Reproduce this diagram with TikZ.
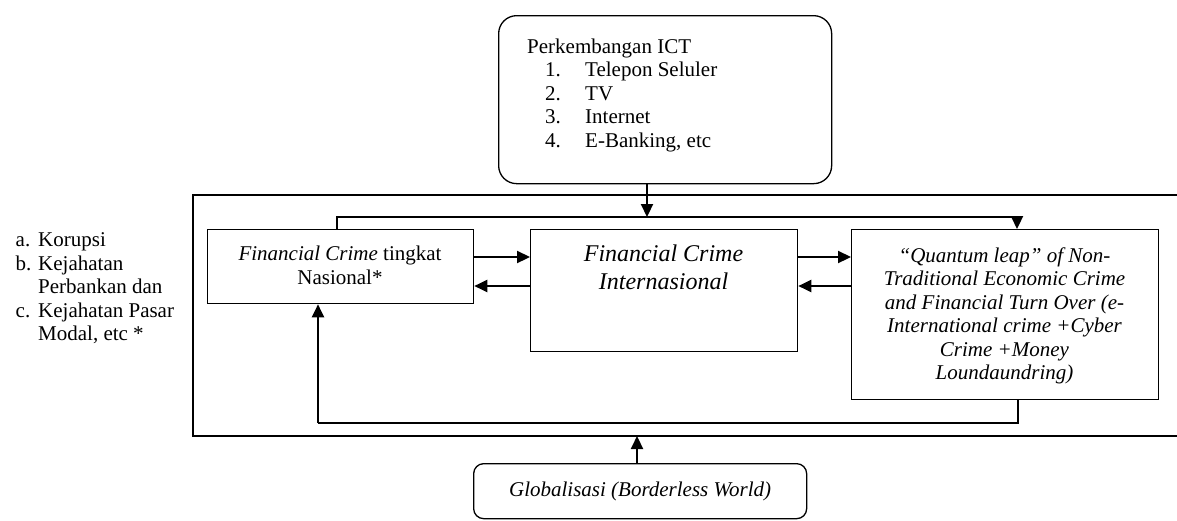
\documentclass[tikz,border=0pt]{standalone}
\usepackage{fontspec}
\setmainfont{Liberation Serif}
\usetikzlibrary{arrows.meta}
\begin{document}
\begin{tikzpicture}[x=1pt,y=-1pt,
  boxline/.style={draw=black,line width=1.3pt},
  plainbox/.style={boxline,rectangle,inner sep=0pt,anchor=north west},
  roundbox/.style={boxline,rectangle,inner sep=0pt,anchor=north west},
  txt/.style={inner sep=0pt,font=\fontsize{21}{23.5}\selectfont},
  bigtxt/.style={inner sep=0pt,font=\fontsize{24}{27.5}\selectfont},
  conn/.style={line width=2.2pt,-{Triangle[length=13pt,width=12pt]}},
  thinline/.style={line width=1.3pt},
]
\useasboundingbox (0,0) rectangle (1177,520);

% outer frame
\draw[thinline] (1180,195) -- (193,195) -- (193,436) -- (1180,436);

% top box
\node[roundbox,rounded corners=18pt,minimum width=333pt,minimum height=168pt] (ict) at (498,15) {};
\node[txt,anchor=north west,align=left] (icttext) at (527,38.5)
  {Perkembangan ICT\\
   \hspace*{18pt}\makebox[40pt][l]{1.}Telepon Seluler\\
   \hspace*{18pt}\makebox[40pt][l]{2.}TV\\
   \hspace*{18pt}\makebox[40pt][l]{3.}Internet\\
   \hspace*{18pt}\makebox[40pt][l]{4.}E-Banking, etc};

% left list
\node[txt,anchor=north west,align=left] (list) at (15.5,232.5)
  {\makebox[22.5pt][l]{a.}Korupsi\\
   \makebox[22.5pt][l]{b.}Kejahatan\\
   \hspace*{22.5pt}Perbankan dan\\
   \makebox[22.5pt][l]{c.}Kejahatan Pasar\\
   \hspace*{22.5pt}Modal, etc *};

% inner boxes
\node[plainbox,minimum width=266pt,minimum height=74pt] (nas) at (207,229) {};
\node[txt,align=center,anchor=north] (nastext) at (340,246)
  {\textit{Financial Crime} tingkat\\Nasional*};

\node[plainbox,minimum width=267pt,minimum height=122pt] (int) at (530,229) {};
\node[bigtxt,align=center,anchor=north] (inttext) at (663.5,245)
  {\textit{Financial Crime}\\\textit{Internasional}};

\node[plainbox,minimum width=307pt,minimum height=170pt] (qt) at (851,229) {};
\node[txt,align=center,anchor=north] (qttext) at (1004.5,247.5)
  {\itshape ``Quantum leap'' of Non-\\
   \itshape Traditional Economic Crime\\
   \itshape and Financial Turn Over (e-\\
   \itshape International crime +Cyber\\
   \itshape Crime +Money\\
   \itshape Loundaundring)};

% bottom box
\node[roundbox,rounded corners=10pt,minimum width=333pt,minimum height=55pt,txt] (glob) at (473,463)
  {\textit{Globalisasi (Borderless World)}};

% coordinates
\coordinate (ictdown) at (647,217);
\coordinate (fbTopL) at (337,217);
\coordinate (fbTopR) at (1017,217);
\coordinate (fbBotR) at (1018,423);
\coordinate (fbBotL) at (318,423);
\coordinate (rowA) at (0,257);
\coordinate (rowB) at (0,286);
\coordinate (globup) at (637,436);

% connectors
\draw[conn] (ict.south -| ictdown) -- (ictdown);
\draw[thinline] (nas.north -| fbTopL) -- (fbTopL) -- (fbTopR);
\draw[conn] (fbTopR) -- (fbTopR |- qt.north);

\draw[conn] (nas.east |- rowA) -- (int.west |- rowA);
\draw[conn] (int.west |- rowB) -- (nas.east |- rowB);
\draw[conn] (int.east |- rowA) -- (qt.west |- rowA);
\draw[conn] (qt.west |- rowB) -- (int.east |- rowB);

\draw[thinline] (qt.south -| fbBotR) -- (fbBotR) -- (fbBotL);
\draw[conn] (fbBotL) -- (fbBotL |- nas.south);

\draw[conn] (glob.north -| globup) -- (globup);
\end{tikzpicture}
\end{document}
